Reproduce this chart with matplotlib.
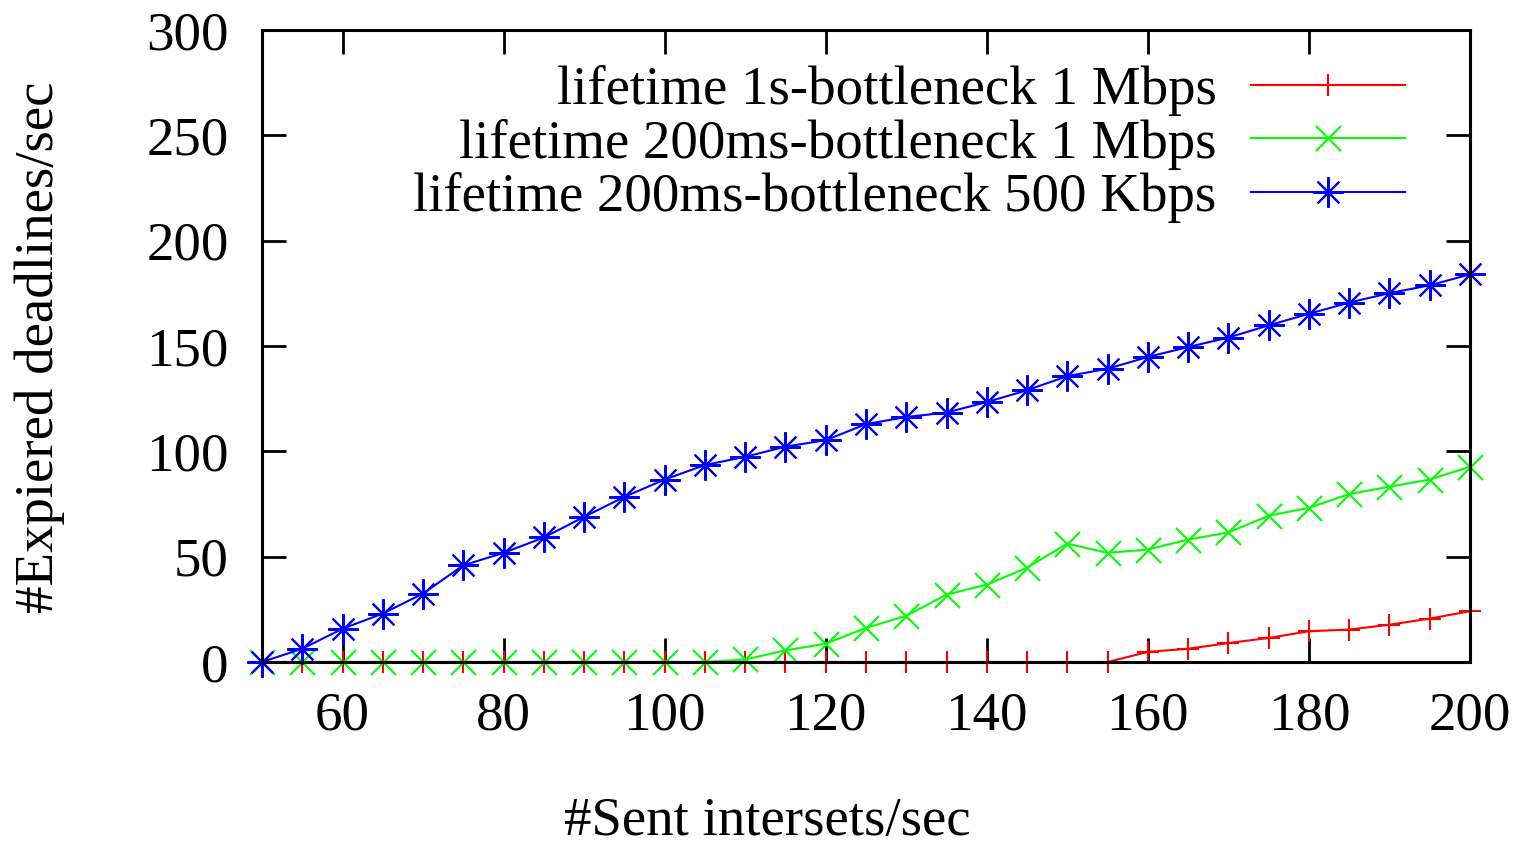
import matplotlib
matplotlib.use("Agg")
import matplotlib.pyplot as plt

# rates sent (interests/sec)
rates = list(range(50, 201, 5))

# lifetime 1s, bottleneck 1 Mbps
red_vals = [0, 0, 0, 0, 0, 0, 0, 0, 0, 0, 0, 0, 0, 0, 0, 0, 0, 0, 0, 0, 0, 0,
            4.8, 6.3, 9.0, 11.4, 14.6, 15.4, 17.7, 20.6, 24.1]
# lifetime 200ms, bottleneck 1 Mbps
green_vals = [0, 0, 0, 0, 0, 0, 0, 0, 0, 0, 0, 0, 1.2, 5.5, 8.7, 16.2, 21.9,
              32.0, 36.7, 44.8, 56.2, 51.8, 53.4, 58.1, 61.5, 69.4, 73.2,
              79.7, 83.2, 86.6, 92.7]
# lifetime 200ms, bottleneck 500 Kbps
blue_vals = [0, 6.3, 15.8, 23.0, 32.5, 45.9, 51.8, 59.1, 68.9, 78.4, 86.6,
             93.5, 97.4, 102.2, 105.3, 112.9, 116.3, 118.4, 123.4, 129.0,
             135.7, 139.2, 144.8, 149.5, 154.0, 159.8, 165.3, 170.6, 175.1,
             178.8, 184.0]

labels = ["lifetime 1s-bottleneck 1 Mbps",
          "lifetime 200ms-bottleneck 1 Mbps",
          "lifetime 200ms-bottleneck 500 Kbps"]
xticks = [60, 80, 100, 120, 140, 160, 180, 200]
yticks = [0, 50, 100, 150, 200, 250, 300]

plt.rcParams["font.family"] = ["Liberation Serif", "DejaVu Serif"]
plt.rcParams["font.size"] = 39.5

fig = plt.figure(figsize=(15.24, 8.47), dpi=100)
ax = fig.add_axes([262 / 1524, 1 - 662 / 847, (1470 - 262) / 1524, (662 - 30) / 847])

ax.plot(rates, red_vals, color="#ff0000", lw=1.5, marker="+", ms=16,
        mew=1.5, clip_on=False, label=labels[0])
ax.plot(rates, green_vals, color="#00ff00", lw=1.5, marker="x", ms=18,
        mew=1.5, clip_on=False, label=labels[1])
ax.plot(rates, blue_vals, color="#0000ff", lw=1.5, marker=(8, 2, 0), ms=22,
        mew=1.5, clip_on=False, label=labels[2])

ax.set_xlim(50, 200)
ax.set_ylim(0, 300)
ax.set_xticks(xticks)
ax.set_yticks(yticks)
ax.tick_params(direction="in", length=17, width=2, top=True, right=True)
ax.tick_params(axis="y", pad=24)
ax.tick_params(axis="x", pad=21)
for s in ax.spines.values():
    s.set_linewidth(2.2)

ax.legend(loc="upper right", bbox_to_anchor=(0.946, 0.944), frameon=False,
          markerfirst=False, handlelength=2.8, handletextpad=0.63,
          labelspacing=0.04, borderaxespad=0, borderpad=0)

fig.text(40 / 1524, 1 - 347 / 847, "#Expiered deadlines/sec", rotation=90,
         ha="center", va="center")
fig.text(767 / 1524, 1 - 822 / 847, "#Sent intersets/sec", ha="center",
         va="center")

fig.savefig("out.png", dpi=100)
